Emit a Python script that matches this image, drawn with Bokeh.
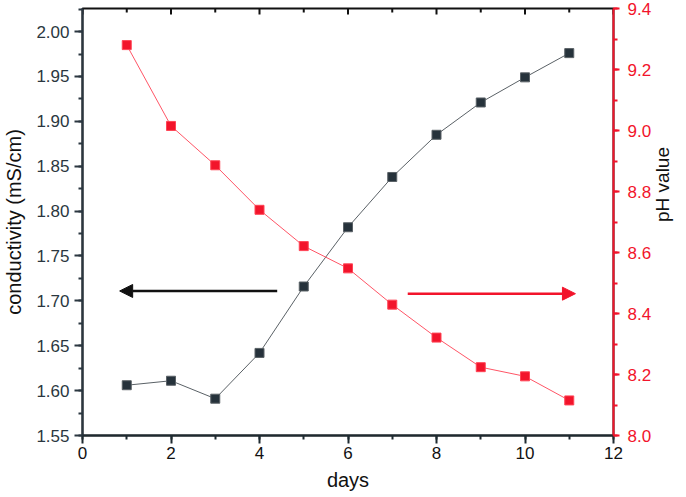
import math
from bokeh.plotting import figure
from bokeh.models import (Range1d, LinearAxis, SingleIntervalTicker, NumeralTickFormatter,
                          Arrow, NormalHead)
from bokeh.embed import file_html
from bokeh.resources import INLINE

days = [1, 2, 3, 4, 5, 6, 7, 8, 9, 10, 11]
conductivity = [1.606, 1.611, 1.591, 1.642, 1.716, 1.782, 1.838, 1.885, 1.921, 1.949, 1.976]
ph = [9.28, 9.015, 8.886, 8.740, 8.621, 8.548, 8.429, 8.321, 8.224, 8.194, 8.115]

x_lim = (0, 12)
cond_lim = (1.55, 2.0257)
ph_lim = (8.0, 9.4)

top_major_ticks = [0, 2, 4, 6, 8, 10, 12]
top_minor_ticks = [1, 3, 5, 7, 9, 11]

# arrows (annotation positions)
black_arrow = dict(x_start=4.40, x_end=0.84, y=1.711)
red_arrow = dict(x_start=7.35, x_end=11.14, y=8.465)

FONT = "Liberation Sans"
RED = "#f2142b"
DARK = "#26323b"

W, H = 686, 496
FRAME_L, FRAME_T, FRAME_R, FRAME_B = 82, 8, 614, 435
px = (cond_lim[1] - cond_lim[0]) / (FRAME_B - FRAME_T)   # one pixel in conductivity units

p = figure(width=W, height=H, output_backend="svg", toolbar_location=None,
           x_range=Range1d(*x_lim), y_range=Range1d(*cond_lim),
           min_border_left=FRAME_L, min_border_right=W - FRAME_R,
           min_border_top=FRAME_T, min_border_bottom=H - FRAME_B,
           x_axis_location=None, y_axis_location=None)
p.extra_y_ranges = {"ph": Range1d(*ph_lim)}
p.outline_line_color = "#111111"
p.outline_line_width = 2
p.grid.visible = False
p.background_fill_color = "white"

# bottom axis
xb = LinearAxis(ticker=SingleIntervalTicker(interval=2, num_minor_ticks=2), axis_label="days")
xb.axis_line_color = "#1e2a30"
xb.axis_line_width = 2
xb.major_tick_line_color = "#1e2a30"
xb.minor_tick_line_color = "#1e2a30"
xb.major_tick_line_width = 2
xb.minor_tick_line_width = 2
xb.major_tick_out = 8
xb.major_tick_in = 0
xb.minor_tick_out = 4
xb.minor_tick_in = 0
xb.major_label_standoff = 3
xb.major_label_text_font = FONT
xb.major_label_text_font_size = "17px"
xb.major_label_text_color = "#111111"
xb.axis_label_text_font = FONT
xb.axis_label_text_font_size = "20px"
xb.axis_label_text_font_style = "normal"
xb.axis_label_text_color = "#111111"
xb.axis_label_standoff = 7
p.add_layout(xb, "below")

# top inward ticks
p.segment(x0=top_major_ticks, x1=top_major_ticks,
          y0=[cond_lim[1]] * len(top_major_ticks), y1=[cond_lim[1] - 6 * px] * len(top_major_ticks),
          line_color="#111111", line_width=2)
p.segment(x0=top_minor_ticks, x1=top_minor_ticks,
          y0=[cond_lim[1]] * len(top_minor_ticks), y1=[cond_lim[1] - 4 * px] * len(top_minor_ticks),
          line_color="#111111", line_width=2)

# left axis
yl = LinearAxis(ticker=SingleIntervalTicker(interval=0.05, num_minor_ticks=2),
                formatter=NumeralTickFormatter(format="0.00"),
                axis_label="conductivity (mS/cm)")
yl.axis_line_color = "#2b3740"
yl.axis_line_width = 2
yl.major_tick_line_color = "#2b3740"
yl.minor_tick_line_color = "#2b3740"
yl.major_tick_line_width = 2
yl.minor_tick_line_width = 2
yl.major_tick_out = 8
yl.major_tick_in = 0
yl.minor_tick_out = 4
yl.minor_tick_in = 0
yl.major_label_standoff = 5
yl.major_label_text_font = FONT
yl.major_label_text_font_size = "17px"
yl.major_label_text_color = "#2b3740"
yl.axis_label_text_font = FONT
yl.axis_label_text_font_size = "20px"
yl.axis_label_text_font_style = "normal"
yl.axis_label_text_color = "#111111"
yl.axis_label_standoff = 8
p.add_layout(yl, "left")

# right axis
yr = LinearAxis(y_range_name="ph", ticker=SingleIntervalTicker(interval=0.2, num_minor_ticks=2),
                formatter=NumeralTickFormatter(format="0.0"), axis_label="pH value")
yr.axis_line_color = RED
yr.axis_line_width = 2
yr.major_tick_line_color = RED
yr.minor_tick_line_color = RED
yr.major_tick_line_width = 2
yr.minor_tick_line_width = 2
yr.major_tick_out = 6
yr.major_tick_in = 0
yr.minor_tick_out = 4
yr.minor_tick_in = 0
yr.major_label_standoff = 8
yr.major_label_text_font = FONT
yr.major_label_text_font_size = "17px"
yr.major_label_text_color = RED
yr.axis_label_text_font = FONT
yr.axis_label_text_font_size = "19px"
yr.axis_label_text_font_style = "normal"
yr.axis_label_text_color = "#111111"
yr.axis_label_standoff = 8
if "axis_label_orientation" in yr.properties():
    yr.axis_label_orientation = math.pi / 2
p.add_layout(yr, "right")

# series
p.line(days, conductivity, line_color="#5a6166", line_width=1)
p.scatter(days, conductivity, marker="square", size=9, fill_color=DARK, line_color="#5a6166",
          line_width=1)
p.line(days, ph, y_range_name="ph", line_color="#ff5566", line_width=1)
p.scatter(days, ph, y_range_name="ph", marker="square", size=9, fill_color=RED,
          line_color="#ff4455", line_width=1)

# arrows
p.add_layout(Arrow(x_start=black_arrow["x_start"], y_start=black_arrow["y"],
                   x_end=black_arrow["x_end"], y_end=black_arrow["y"],
                   line_color="#111111", line_width=2.5,
                   end=NormalHead(size=13, fill_color="#111111", line_color="#111111")))
p.add_layout(Arrow(x_start=red_arrow["x_start"], y_start=red_arrow["y"],
                   x_end=red_arrow["x_end"], y_end=red_arrow["y"], y_range_name="ph",
                   line_color=RED, line_width=2.5,
                   end=NormalHead(size=13, fill_color=RED, line_color=RED)))

open("out.html", "w").write(file_html(p, INLINE))
